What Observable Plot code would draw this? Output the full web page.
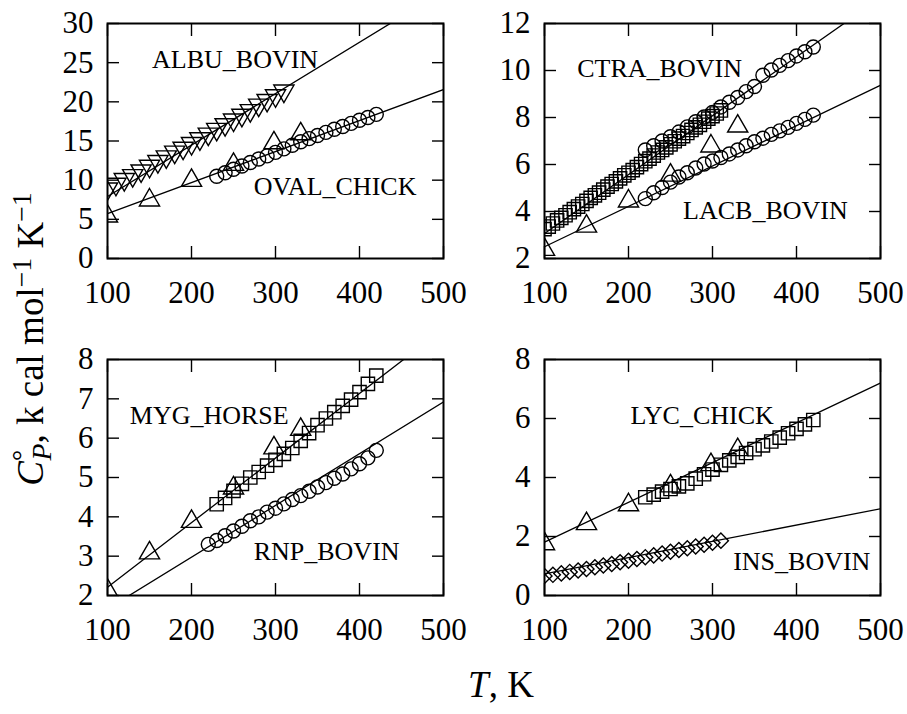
<!DOCTYPE html>
<html>
<head>
<meta charset="utf-8">
<script src="https://cdn.jsdelivr.net/npm/d3@7"></script>
<script src="https://cdn.jsdelivr.net/npm/@observablehq/plot@0.6"></script>
<style>
  html, body { margin: 0; padding: 0; background: #fff; }
  #wrap { position: relative; width: 907px; height: 714px; background: #fff; font-family: "Liberation Serif", "Times New Roman", serif; color: #000; }
  .pane { position: absolute; }
  .axlab { position: absolute; font-size: 37px; line-height: 37px; white-space: nowrap; }
  .sup { position: relative; top: -0.45em; font-size: 0.75em; }
  .sub { position: relative; top: 0.3em; font-size: 0.75em; }
</style>
</head>
<body>
<div id="wrap">
  <div id="p1" class="pane" style="left:0px;top:0px;"></div>
  <div id="p2" class="pane" style="left:470px;top:0px;"></div>
  <div id="p3" class="pane" style="left:0px;top:320px;"></div>
  <div id="p4" class="pane" style="left:470px;top:320px;"></div>
  <div class="axlab" id="ylab" style="left:32px;top:339px;transform:translate(-50%,-50%) rotate(-90deg);"><i>C</i><span class="sup">°</span><span class="sub" style="margin-left:-0.38em"><i>P</i></span>, k cal mol<span class="sup">−1</span> K<span class="sup">−1</span></div>
  <div class="axlab" id="xlab" style="left:501px;top:666px;transform:translateX(-50%);"><i>T</i>, K</div>
</div>
<script>
// ---- shared ----
const xTicks = [100, 200, 300, 400, 500];
const fitT = [100, 500];
const triT = [100, 150, 200, 250, 298.15, 330];

// ---- panel 1 ----
const p1Labels = ["ALBU_BOVIN", "OVAL_CHICK"];
const p1YTicks = [0, 5, 10, 15, 20, 25, 30];
const albuT = [100,110,120,130,140,150,160,170,180,190,200,210,220,230,240,250,260,270,280,290,300,310];
const albuCp = [8.9,9.5,10.1,10.6,11.2,11.8,12.4,13.0,13.6,14.1,14.7,15.3,15.9,16.5,17.1,17.7,18.3,18.9,19.6,20.2,20.8,21.4];
const ovalT = [230,240,250,260,270,280,290,300,310,320,330,340,350,360,370,380,390,400,410,420];
const ovalCp = [10.5,10.95,11.4,11.8,12.25,12.7,13.1,13.55,14.0,14.45,14.9,15.3,15.7,16.1,16.5,16.85,17.25,17.65,18.0,18.4];
const p1TriCp = [5.4, 7.45, 9.95, 12.0, 14.75, 15.9];
const albuFit = [7.92, 34.16];
const ovalFit = [5.74, 21.57];

// ---- panel 2 ----
const p2Labels = ["CTRA_BOVIN", "LACB_BOVIN"];
const p2YTicks = [2, 4, 6, 8, 10, 12];
const ctraT = [220,230,240,250,260,270,280,290,300,310,320,330,340,350,360,370,380,390,400,410,420];
const ctraCp = [6.62,6.80,7.00,7.18,7.38,7.60,7.82,8.02,8.22,8.45,8.65,8.85,9.10,9.32,9.80,10.02,10.22,10.42,10.62,10.80,11.00];
const lacbT = [220,230,240,250,260,270,280,290,300,310,320,330,340,350,360,370,380,390,400,410,420];
const lacbCp = [4.55,4.80,5.02,5.25,5.47,5.65,5.85,6.02,6.15,6.30,6.45,6.62,6.80,6.97,7.12,7.28,7.43,7.58,7.75,7.92,8.10];
const p2SqT = [100,105,110,115,120,125,130,135,140,145,150,155,160,165,170,175,180,185,190,195,200,205,210,215,220,225,230,235,240,245,250,255,260,265,270,275,280,285,290,295,300,305,310];
const p2SqCp = [3.25,3.36,3.49,3.62,3.73,3.84,3.97,4.10,4.21,4.32,4.45,4.58,4.69,4.80,4.93,5.06,5.17,5.28,5.41,5.54,5.65,5.76,5.89,6.02,6.14,6.25,6.38,6.51,6.62,6.73,6.86,6.99,7.10,7.21,7.34,7.47,7.58,7.69,7.82,7.95,8.06,8.17,8.30];
const p2TriCp = [2.38, 3.37, 4.44, 5.54, 6.78, 7.63];
const ctraFit = [3.06, 13.09];
const lacbFit = [2.50, 9.37];

// ---- panel 3 ----
const p3Labels = ["MYG_HORSE", "RNP_BOVIN"];
const p3YTicks = [2, 3, 4, 5, 6, 7, 8];
const mygT = [230,240,250,260,270,280,290,300,310,320,330,340,350,360,370,380,390,400,410,420];
const mygCp = [4.32,4.48,4.66,4.84,5.00,5.14,5.30,5.45,5.60,5.75,5.93,6.13,6.33,6.50,6.66,6.82,6.98,7.17,7.38,7.59];
const rnpT = [220,230,240,250,260,270,280,290,300,310,320,330,340,350,360,370,380,390,400,410,420];
const rnpCp = [3.30,3.40,3.52,3.64,3.76,3.90,4.00,4.12,4.22,4.33,4.44,4.54,4.65,4.76,4.87,4.98,5.09,5.22,5.35,5.50,5.69];
const p3TriCp = [2.13, 3.08, 3.88, 4.73, 5.75, 6.22];
const mygFit = [2.21, 8.78];
const rnpFit = [1.66, 6.92];

// ---- panel 4 ----
const p4Labels = ["LYC_CHICK", "INS_BOVIN"];
const p4YTicks = [0, 2, 4, 6, 8];
const lycT = [220,230,240,250,260,270,280,290,300,310,320,330,340,350,360,370,380,390,400,410,420];
const lycCp = [3.33,3.42,3.52,3.61,3.70,3.80,3.96,4.11,4.27,4.43,4.58,4.70,4.83,4.96,5.09,5.22,5.35,5.50,5.65,5.80,5.95];
const insT = [100,110,120,130,140,150,160,170,180,190,200,210,220,230,240,250,260,270,280,290,300,310];
const insCp = [0.66,0.70,0.75,0.80,0.85,0.90,0.96,1.02,1.07,1.13,1.18,1.24,1.30,1.36,1.42,1.48,1.54,1.60,1.66,1.72,1.79,1.86];
const p4TriCp = [1.75, 2.43, 3.07, 3.71, 4.43, 4.94];
const lycFit = [1.81, 7.20];
const insFit = [0.73, 2.94];

const FONT = "'Liberation Serif', 'Times New Roman', serif";
const rows = (T, C) => T.map((t, i) => ({T: t, Cp: C[i]}));

function panel(cfg) {
  const marks = [];
  for (const f of cfg.fits) {
    marks.push(Plot.line(rows(fitT, f), {x: "T", y: "Cp", stroke: "#000", strokeWidth: 1.3, clip: true}));
  }
  for (const s of cfg.series) {
    marks.push(Plot.dot(rows(s.T, s.Cp), {
      x: "T", y: "Cp", symbol: s.symbol, r: s.r, rotate: s.rotate || 0,
      stroke: "#000", strokeWidth: 1.4, fill: "none", clip: true
    }));
  }
  cfg.labels.forEach((name, i) => {
    marks.push(Plot.text([name], {
      x: cfg.labelPos[i][0], y: cfg.labelPos[i][1], text: d => d,
      textAnchor: "start", lineAnchor: "bottom", fontSize: 26, fontFamily: FONT, fill: "#000"
    }));
  });
  marks.push(Plot.frame({stroke: "#000", strokeWidth: 2}));
  marks.push(Plot.axisX(xTicks, {anchor: "bottom", tickSize: -12, tickPadding: 34, strokeWidth: 1.4, label: null, fontSize: 31}));
  marks.push(Plot.axisX(xTicks, {anchor: "top", tickSize: -12, tickFormat: () => "", strokeWidth: 1.4, label: null}));
  marks.push(Plot.axisY(cfg.yTicks, {anchor: "left", tickSize: -12, tickPadding: 26, strokeWidth: 1.4, label: null, fontSize: 31}));
  marks.push(Plot.axisY(cfg.yTicks, {anchor: "right", tickSize: -12, tickFormat: () => "", strokeWidth: 1.4, label: null}));
  return Plot.plot({
    width: cfg.w, height: cfg.h,
    marginLeft: cfg.ml, marginRight: cfg.mr, marginTop: cfg.mt, marginBottom: cfg.mb,
    x: {domain: [100, 500]},
    y: {domain: cfg.yDomain},
    style: {fontFamily: FONT, fontSize: "31px", background: "transparent", color: "#000", overflow: "visible"},
    marks
  });
}

const triSym = "triangle";
const rowTop = {h: 320, mt: 23, mb: 62};
const rowBot = {h: 330, mt: 39, mb: 55};
const colLeft = {w: 470, ml: 107, mr: 27};
const colRight = {w: 437, ml: 74, mr: 27};

document.getElementById("p1").appendChild(panel({
  ...rowTop, ...colLeft, yDomain: [0, 30], yTicks: p1YTicks,
  fits: [albuFit, ovalFit],
  series: [
    {T: albuT, Cp: albuCp, symbol: triSym, r: 7.5, rotate: 180},
    {T: ovalT, Cp: ovalCp, symbol: "circle", r: 7},
    {T: triT, Cp: p1TriCp, symbol: triSym, r: 7.5}
  ],
  labels: p1Labels, labelPos: [[153, 24.3], [274, 8.08]]
}));
document.getElementById("p2").appendChild(panel({
  ...rowTop, ...colRight, yDomain: [2, 12], yTicks: p2YTicks,
  fits: [ctraFit, lacbFit],
  series: [
    {T: p2SqT, Cp: p2SqCp, symbol: "square", r: 7.5},
    {T: ctraT, Cp: ctraCp, symbol: "circle", r: 7},
    {T: lacbT, Cp: lacbCp, symbol: "circle", r: 7},
    {T: triT, Cp: p2TriCp, symbol: triSym, r: 7.5}
  ],
  labels: p2Labels, labelPos: [[139, 9.73], [265, 3.70]]
}));
document.getElementById("p3").appendChild(panel({
  ...rowBot, ...colLeft, yDomain: [2, 8], yTicks: p3YTicks,
  fits: [mygFit, rnpFit],
  series: [
    {T: mygT, Cp: mygCp, symbol: "square", r: 7.5},
    {T: rnpT, Cp: rnpCp, symbol: "circle", r: 7},
    {T: triT, Cp: p3TriCp, symbol: triSym, r: 7.5}
  ],
  labels: p3Labels, labelPos: [[126.5, 6.37], [274, 2.89]]
}));
document.getElementById("p4").appendChild(panel({
  ...rowBot, ...colRight, yDomain: [0, 8], yTicks: p4YTicks,
  fits: [lycFit, insFit],
  series: [
    {T: lycT, Cp: lycCp, symbol: "square", r: 7.5},
    {T: insT, Cp: insCp, symbol: "square", r: 6, rotate: 45},
    {T: triT, Cp: p4TriCp, symbol: triSym, r: 7.5}
  ],
  labels: p4Labels, labelPos: [[202.4, 5.82], [324.6, 0.85]]
}));
</script>
</body>
</html>
